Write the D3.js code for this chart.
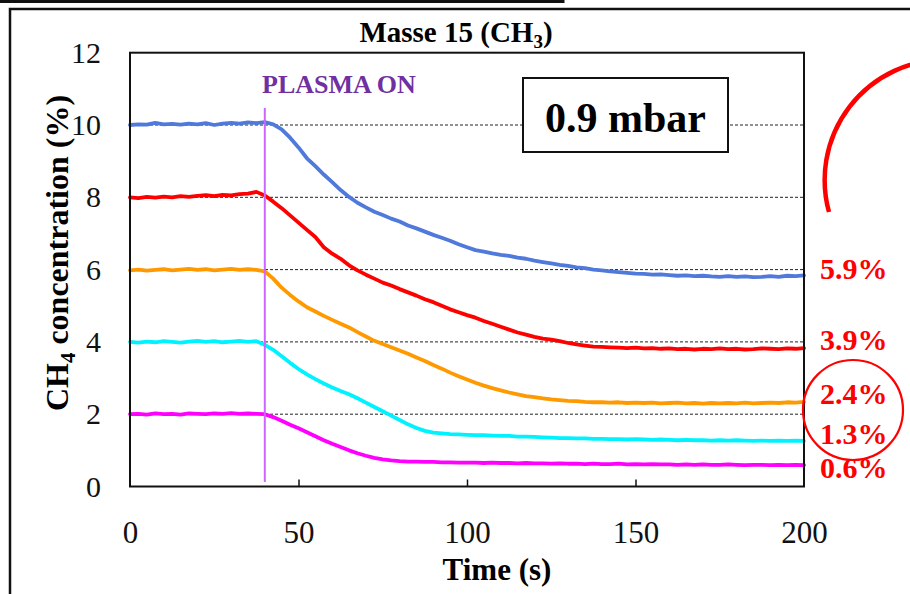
<!DOCTYPE html>
<html>
<head>
<meta charset="utf-8">
<script src="https://cdn.jsdelivr.net/npm/d3@7"></script>
<style>
  html, body { margin: 0; padding: 0; background: #fff; }
  svg { display: block; }
  text { font-family: "Liberation Serif", "Times New Roman", serif; }
</style>
</head>
<body>
<svg id="chart" width="910" height="594"></svg>
<script>
// ---------------- data ----------------
const times = [0,2.5,5,7.5,10,12.5,15,17.5,20,22.5,25,27.5,30,32.5,35,37.5,40,42.5,45,47.5,
  50,52.5,55,57.5,60,62.5,65,67.5,70,72.5,75,77.5,80,82.5,85,87.5,90,92.5,95,97.5,
  100,102.5,105,107.5,110,112.5,115,117.5,120,122.5,125,127.5,130,132.5,135,137.5,140,142.5,145,147.5,
  150,152.5,155,157.5,160,162.5,165,167.5,170,172.5,175,177.5,180,182.5,185,187.5,190,192.5,195,197.5,200];

const seriesNames = ["5.9%", "3.9%", "2.4%", "1.3%", "0.6%"];
const seriesColors = ["#5079dc", "#ff0000", "#ff9900", "#00f2ff", "#ff00ff"];

const blue = [10.00,10.02,10.01,10.06,10.02,10.03,10.01,10.04,10.02,10.05,
  10.00,10.04,10.06,10.04,10.07,10.05,10.08,10.02,9.88,9.65,
  9.38,9.08,8.86,8.63,8.42,8.20,8.01,7.85,7.72,7.60,
  7.51,7.41,7.33,7.22,7.14,7.05,6.96,6.88,6.80,6.70,
  6.62,6.54,6.50,6.45,6.41,6.38,6.33,6.30,6.25,6.21,
  6.17,6.13,6.10,6.06,6.04,6.00,5.98,5.95,5.93,5.91,
  5.89,5.88,5.86,5.87,5.85,5.83,5.84,5.82,5.83,5.81,
  5.80,5.82,5.80,5.81,5.79,5.80,5.82,5.80,5.83,5.82,5.84];

const red = [8.00,7.98,8.01,7.99,8.02,8.00,8.03,8.01,8.04,8.06,
  8.03,8.07,8.05,8.09,8.10,8.15,8.05,7.88,7.70,7.50,
  7.30,7.10,6.90,6.62,6.44,6.30,6.12,5.98,5.86,5.75,
  5.64,5.56,5.46,5.37,5.28,5.18,5.10,5.00,4.90,4.82,
  4.74,4.67,4.58,4.50,4.42,4.34,4.26,4.20,4.14,4.09,
  4.06,4.02,3.97,3.93,3.90,3.87,3.86,3.85,3.84,3.83,
  3.84,3.82,3.83,3.81,3.82,3.80,3.81,3.79,3.81,3.80,
  3.82,3.80,3.81,3.79,3.80,3.82,3.81,3.80,3.82,3.81,3.83];

const orange = [5.98,6.00,5.97,5.99,6.01,5.98,6.00,6.02,5.99,6.01,
  5.98,6.00,6.02,5.99,6.01,5.99,5.95,5.75,5.50,5.30,
  5.12,4.96,4.84,4.72,4.61,4.50,4.40,4.27,4.15,4.03,
  3.94,3.85,3.76,3.67,3.57,3.47,3.36,3.26,3.15,3.05,
  2.96,2.87,2.79,2.72,2.66,2.60,2.55,2.50,2.47,2.44,
  2.41,2.39,2.37,2.36,2.34,2.33,2.33,2.32,2.33,2.31,
  2.32,2.31,2.32,2.30,2.31,2.32,2.30,2.31,2.29,2.31,
  2.30,2.31,2.30,2.32,2.30,2.31,2.32,2.31,2.33,2.32,2.34];

const cyan = [4.00,3.98,4.01,3.99,4.02,4.00,3.98,4.01,4.03,4.00,
  4.02,3.99,4.01,4.03,4.00,4.02,3.92,3.78,3.60,3.42,
  3.25,3.10,2.97,2.85,2.74,2.64,2.55,2.44,2.32,2.20,
  2.08,1.96,1.84,1.72,1.62,1.54,1.49,1.47,1.45,1.44,
  1.43,1.42,1.42,1.41,1.40,1.40,1.38,1.38,1.37,1.36,
  1.35,1.34,1.34,1.33,1.33,1.32,1.32,1.31,1.31,1.30,
  1.31,1.30,1.29,1.30,1.29,1.28,1.29,1.28,1.28,1.27,
  1.28,1.27,1.28,1.27,1.26,1.27,1.26,1.27,1.26,1.27,1.26];

const magenta = [2.00,2.01,1.99,2.02,2.00,2.01,1.99,2.02,2.01,2.00,
  2.02,2.01,2.03,2.01,2.02,2.01,2.00,1.92,1.82,1.71,
  1.61,1.50,1.39,1.28,1.18,1.09,1.00,0.92,0.85,0.79,
  0.75,0.72,0.70,0.69,0.69,0.68,0.68,0.67,0.67,0.66,
  0.66,0.66,0.65,0.66,0.65,0.65,0.64,0.65,0.64,0.64,
  0.63,0.64,0.63,0.63,0.62,0.63,0.62,0.62,0.63,0.61,
  0.62,0.61,0.62,0.61,0.61,0.60,0.61,0.60,0.61,0.60,
  0.60,0.61,0.60,0.59,0.60,0.60,0.59,0.60,0.59,0.60,0.59];

const xTicks = [0, 50, 100, 150, 200];
const yTicks = [0, 2, 4, 6, 8, 10, 12];
const gridValues = [2, 4, 6, 8, 10];
const plasmaTime = 40;

// ---------------- drawing ----------------
const svg = d3.select("#chart");
const x = d3.scaleLinear().domain([0, 200]).range([130, 804]);
const y = d3.scaleLinear().domain([0, 12]).range([486.5, 52.7]);

// outer frame pieces
svg.append("path").attr("d", "M0,1.5H563V-5").attr("fill", "none").attr("stroke", "#111").attr("stroke-width", 3);
svg.append("path").attr("d", "M10,600V9H915").attr("fill", "none").attr("stroke", "#111").attr("stroke-width", 2.5);

// gridlines
svg.append("g").selectAll("line").data(gridValues).join("line")
  .attr("x1", x(0)).attr("x2", x(200))
  .attr("y1", d => y(d)).attr("y2", d => y(d))
  .attr("stroke", "#222").attr("stroke-width", 1).attr("stroke-dasharray", "3,2");

// axes
const xAxis = svg.append("g").attr("transform", `translate(0,${y(0)})`)
  .call(d3.axisBottom(x).tickValues(xTicks).tickSize(-7).tickPadding(34));
xAxis.select(".domain").remove();
xAxis.selectAll(".tick line").attr("stroke", "#111").attr("stroke-width", 1.5)
  .attr("display", d => (d === 0 || d === 200) ? "none" : null);
xAxis.selectAll(".tick text").attr("font-size", 31).attr("fill", "#111")
  .style("font-family", '"Liberation Serif", "Times New Roman", serif');

const yAxis = svg.append("g").attr("transform", `translate(${x(0)},0)`)
  .call(d3.axisLeft(y).tickValues(yTicks).tickSize(0).tickPadding(29));
yAxis.select(".domain").remove();
yAxis.selectAll(".tick text").attr("font-size", 30).attr("fill", "#111")
  .style("font-family", '"Liberation Serif", "Times New Roman", serif');

// series
const allSeries = [blue, red, orange, cyan, magenta];
const line = d3.line().x((d, i) => x(times[i])).y(d => y(d));
svg.append("g").selectAll("path").data(allSeries).join("path")
  .attr("d", d => line(d))
  .attr("fill", "none")
  .attr("stroke", (d, i) => seriesColors[i])
  .attr("stroke-width", 3.8)
  .attr("stroke-linejoin", "round")
  .attr("stroke-linecap", "round");

// plasma line
svg.append("line")
  .attr("x1", x(plasmaTime)).attr("x2", x(plasmaTime))
  .attr("y1", 108).attr("y2", 482)
  .attr("stroke", "#cc66ff").attr("stroke-width", 2);

svg.append("text").attr("x", 262).attr("y", 93)
  .attr("font-size", 26).attr("font-weight", "bold").attr("fill", "#7030a0")
  .text("PLASMA ON");

// plot border
svg.append("rect").attr("x", x(0)).attr("y", y(12))
  .attr("width", x(200) - x(0)).attr("height", y(0) - y(12))
  .attr("fill", "none").attr("stroke", "#111").attr("stroke-width", 2);

// pressure box
svg.append("rect").attr("x", 523).attr("y", 78).attr("width", 205).attr("height", 74)
  .attr("fill", "#fff").attr("stroke", "#111").attr("stroke-width", 2);
svg.append("text").attr("x", 625.5).attr("y", 132).attr("text-anchor", "middle")
  .attr("font-size", 42).attr("font-weight", "bold").attr("fill", "#000")
  .text("0.9 mbar");

// title
const title = svg.append("text").attr("x", 456).attr("y", 42).attr("text-anchor", "middle")
  .attr("font-size", 29).attr("font-weight", "bold").attr("fill", "#000");
title.append("tspan").text("Masse 15 (CH");
title.append("tspan").attr("font-size", 19).attr("dy", 6).text("3");
title.append("tspan").attr("dy", -6).text(")");

// x label
svg.append("text").attr("x", 497).attr("y", 580).attr("text-anchor", "middle")
  .attr("font-size", 31).attr("font-weight", "bold").attr("fill", "#000")
  .text("Time (s)");

// y label
const yl = svg.append("text").attr("transform", "translate(68,253) rotate(-90)")
  .attr("text-anchor", "middle").attr("font-size", 32).attr("font-weight", "bold").attr("fill", "#000");
yl.append("tspan").text("CH");
yl.append("tspan").attr("font-size", 21).attr("dy", 7).text("4");
yl.append("tspan").attr("dy", -7).text(" concentration (%)");

// end labels
const labelBaselines = [279, 350, 404, 444, 478];
svg.append("g").selectAll("text").data(seriesNames).join("text")
  .attr("x", 820).attr("y", (d, i) => labelBaselines[i])
  .attr("font-size", 30).attr("font-weight", "bold").attr("fill", "#ff0000")
  .text(d => d);

// circle annotations
svg.append("circle").attr("cx", 853).attr("cy", 410).attr("r", 50)
  .attr("fill", "none").attr("stroke", "#ff0000").attr("stroke-width", 2.2);
svg.append("path").attr("d", "M829,212 A120.3,120.3 0 0 1 945,59.7")
  .attr("fill", "none").attr("stroke", "#ff0000").attr("stroke-width", 4.5);
</script>
</body>
</html>
